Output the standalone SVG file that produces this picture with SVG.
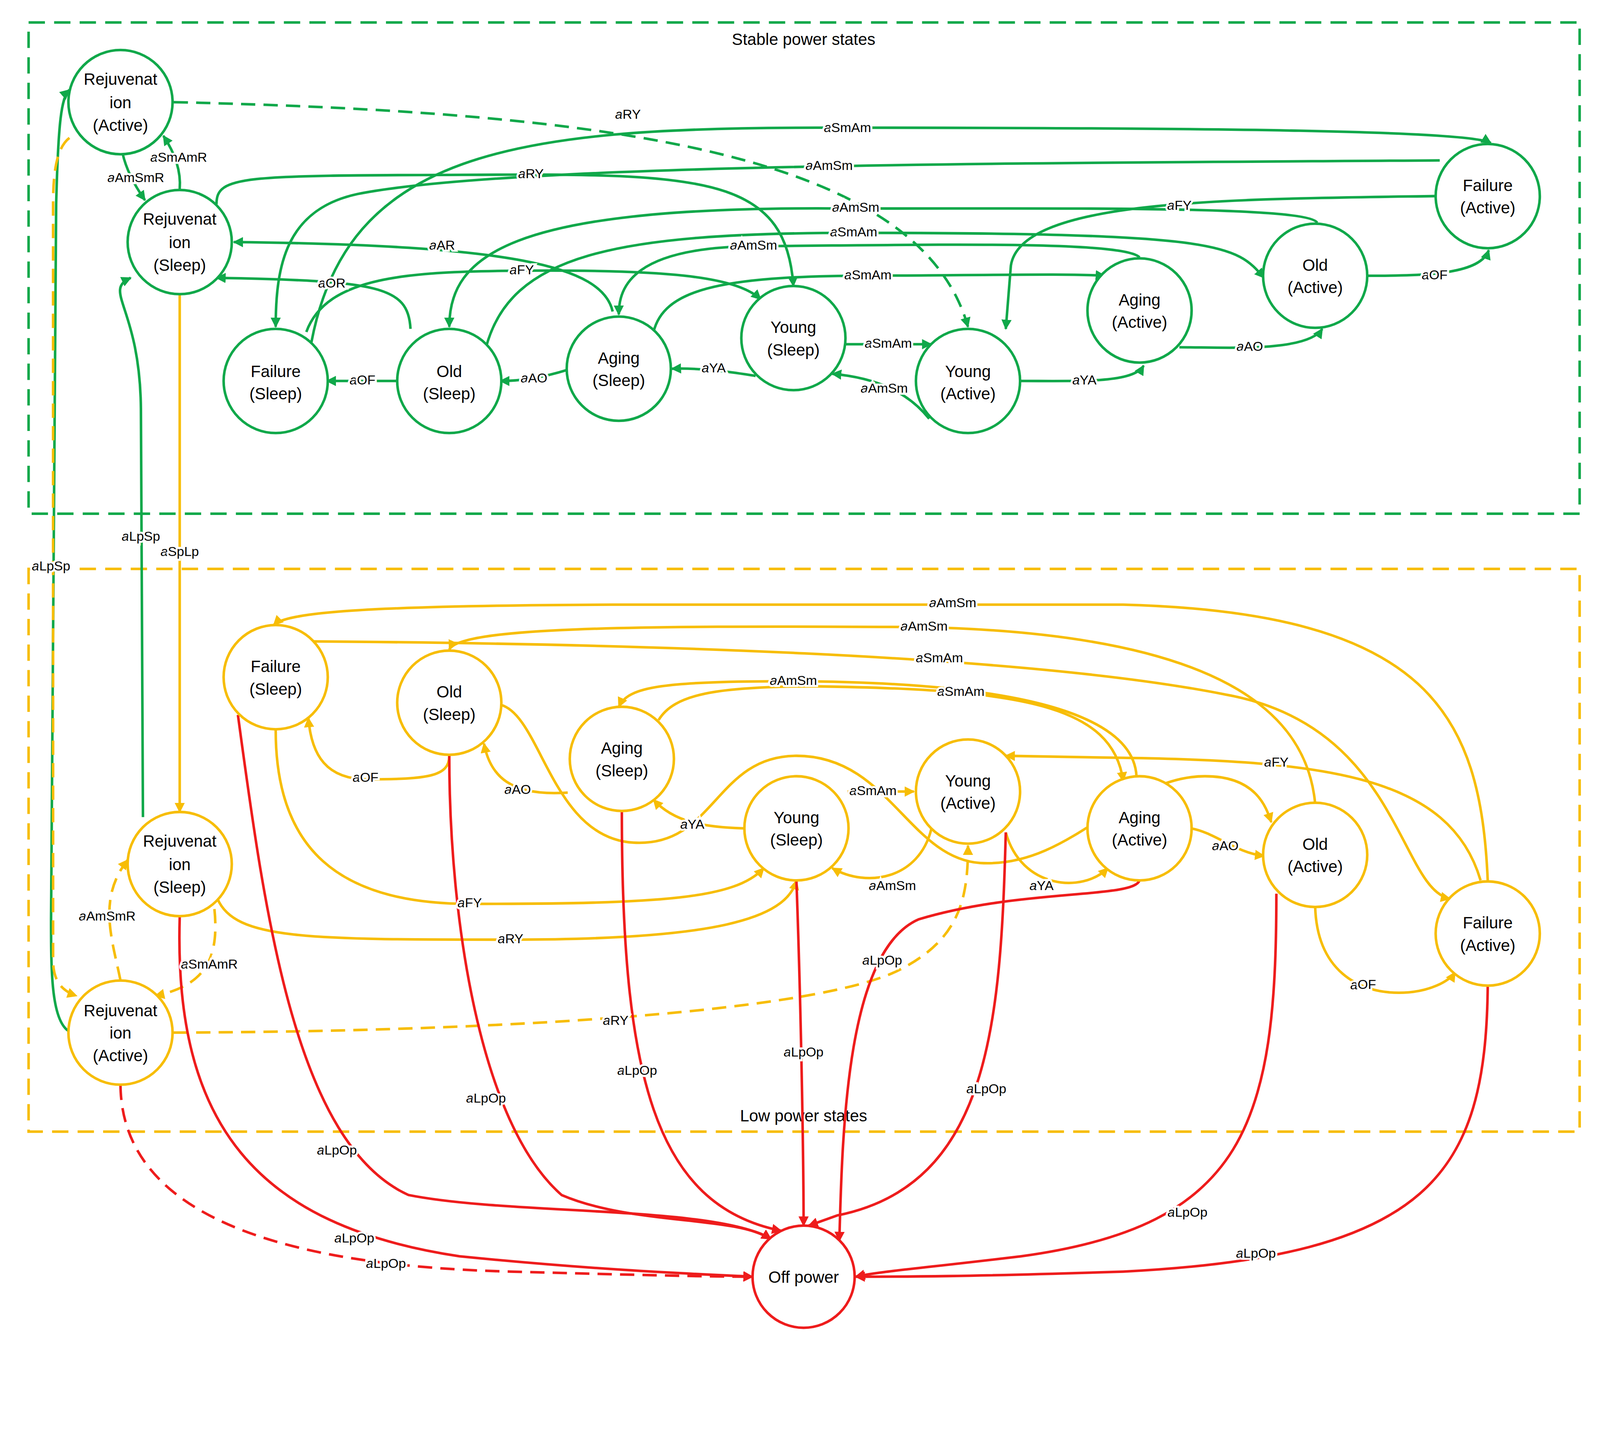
<svg xmlns="http://www.w3.org/2000/svg" width="4397" height="3688" viewBox="0 0 4397 3688">
<style>
.n{fill:#fff;stroke-width:2.5}
.g{stroke:#10a84a}.y{stroke:#f7bd05}.r{stroke:#ee1c1c}
.nt{font-family:"Liberation Sans",Arial,sans-serif;font-size:16px;text-anchor:middle;fill:#000}
.lb{font-family:"Liberation Sans",Arial,sans-serif;font-size:13px;text-anchor:middle;fill:#000;stroke:#fff;stroke-width:4px;paint-order:stroke;dominant-baseline:middle}
.e{fill:none;stroke-width:2.5}
.eg{stroke:#10a84a;marker-end:url(#ag)}.ey{stroke:#f7bd05;marker-end:url(#ay)}.er{stroke:#ee1c1c;marker-end:url(#ar)}
.d{stroke-dasharray:14 8}
.bx{fill:none;stroke-width:2.5;stroke-dasharray:16 9}
</style>
<defs>
<marker id="ag" viewBox="0 0 10 10" refX="9" refY="5" markerWidth="4" markerHeight="4" orient="auto"><path d="M0,0L10,5L0,10z" fill="#10a84a"/></marker>
<marker id="ay" viewBox="0 0 10 10" refX="9" refY="5" markerWidth="4" markerHeight="4" orient="auto"><path d="M0,0L10,5L0,10z" fill="#f7bd05"/></marker>
<marker id="ar" viewBox="0 0 10 10" refX="9" refY="5" markerWidth="4" markerHeight="4" orient="auto"><path d="M0,0L10,5L0,10z" fill="#ee1c1c"/></marker>
</defs>
<rect width="4397" height="3688" fill="#fff"/>
<g transform="scale(2.614)">
<g id="boxes">
<rect class="bx g" x="28" y="22" width="1519" height="481"/>
<rect class="bx y" x="28" y="557" width="1519" height="551"/>
<text class="nt" x="787" y="44">Stable power states</text>
<text class="nt" x="787" y="1098">Low power states</text>
</g>
<g id="connectors">
<path class="e eg d" d="M170,100 C600,110 900,150 948,320"/>
<path class="e eg" d="M120,150 Q125,172 142,196"/>
<path class="e eg" d="M176,185 Q178,160 160,133"/>
<path class="e eg" d="M305,335 C340,150 500,125 800,125 C1200,125 1440,128 1460,140"/>
<path class="e eg" d="M1410,157 C1000,160 500,160 350,190 C280,205 270,260 270,320"/>
<path class="e eg" d="M212,200 C212,170 240,172 500,171 C700,170 770,180 777,280"/>
<path class="e eg" d="M1290,218 C1280,200 1000,205 800,204 C500,204 440,250 440,320"/>
<path class="e eg" d="M476,340 C500,250 600,228 836,228 C1200,228 1210,240 1238,272"/>
<path class="e eg" d="M1116,252 C1100,235 900,240 740,241 C620,242 606,280 606,308"/>
<path class="e eg" d="M600,305 C590,260 500,240 229,237"/>
<path class="e eg" d="M1405,192 C1200,195 1000,195 990,260 L985,322"/>
<path class="e eg" d="M300,325 C320,270 400,266 511,265 C650,264 720,270 745,293"/>
<path class="e eg" d="M402,322 C400,280 370,275 212,272"/>
<path class="e eg" d="M640,325 C650,285 700,270 850,270 C1000,269 1050,268 1082,270"/>
<path class="e eg" d="M828,337 L912,337"/>
<path class="e eg" d="M910,410 C890,385 860,370 815,366"/>
<path class="e eg" d="M740,368 C720,365 690,360 658,361"/>
<path class="e eg" d="M556,362 C530,370 510,373 490,373"/>
<path class="e eg" d="M388,373 L320,373"/>
<path class="e eg" d="M1000,373 C1060,373 1110,375 1120,358"/>
<path class="e eg" d="M1155,340 C1200,340 1280,345 1295,322"/>
<path class="e eg" d="M1340,270 C1400,270 1450,268 1458,245"/>
<path class="e eg" d="M140,800 L138,400 C137,300 100,285 128,272"/>
<path class="e eg" d="M68,1010 C50,1000 50,950 50,900 L55,200 C57,120 60,95 68,88"/>
<path class="e ey" d="M176,289 L176,795"/>
<path class="e ey d" d="M68,135 C55,145 52,170 52,200 L52,940 C52,960 60,970 75,975"/>
<path class="e ey" d="M1457,862 C1450,700 1400,600 1100,592 L600,592 C350,593 280,600 268,612"/>
<path class="e ey" d="M1288,787 C1280,700 1200,620 900,614 C600,612 450,615 440,636"/>
<path class="e ey" d="M305,628 C600,630 1000,640 1200,680 C1370,710 1370,870 1420,880"/>
<path class="e ey" d="M490,690 C530,700 540,820 620,825 C700,830 700,740 780,740 C870,740 890,840 960,845 C1050,850 1100,760 1180,760 C1230,760 1240,790 1245,805"/>
<path class="e ey" d="M830,775 L895,775"/>
<path class="e ey" d="M1113,760 C1110,700 1000,668 777,667 C650,667 615,672 606,692"/>
<path class="e ey" d="M645,705 C660,680 700,672 800,672 C1000,675 1090,690 1100,765"/>
<path class="e ey" d="M1450,862 C1420,760 1300,745 1100,742 L985,740"/>
<path class="e ey" d="M728,811 C690,810 660,805 640,783"/>
<path class="e ey" d="M556,776 C500,780 480,760 474,728"/>
<path class="e ey" d="M440,740 C440,760 420,763 360,763 C320,763 305,740 302,703"/>
<path class="e ey" d="M270,715 C270,830 330,885 460,885 C650,885 720,880 748,850"/>
<path class="e ey" d="M213,880 C230,920 300,920 500,920 C700,920 770,900 780,862"/>
<path class="e ey" d="M912,812 C900,860 850,870 815,850"/>
<path class="e ey" d="M985,815 C1000,870 1060,875 1085,850"/>
<path class="e ey" d="M1166,811 C1190,815 1210,835 1238,838"/>
<path class="e ey" d="M1288,888 C1290,950 1330,972 1370,972 C1400,972 1420,960 1425,952"/>
<path class="e ey d" d="M170,1011 C500,1010 800,990 880,950 C940,920 948,880 948,828"/>
<path class="e ey d" d="M210,890 C215,940 200,965 152,975"/>
<path class="e ey d" d="M118,960 C110,920 95,880 125,842"/>
<path class="e er d" d="M118,1063 C120,1200 300,1240 500,1245 C650,1249 700,1250 737,1250"/>
<path class="e er" d="M176,898 C170,1100 250,1200 450,1230 C600,1245 700,1248 737,1250"/>
<path class="e er" d="M233,700 C260,900 290,1120 400,1170 C500,1190 700,1180 755,1213"/>
<path class="e er" d="M440,740 C440,900 470,1100 550,1170 C620,1200 720,1190 755,1213"/>
<path class="e er" d="M609,795 C609,1050 640,1180 765,1205"/>
<path class="e er" d="M780,863 C785,1000 787,1150 787,1200"/>
<path class="e er" d="M985,815 C980,1000 970,1160 820,1190 L792,1200"/>
<path class="e er" d="M1116,862 C1110,880 1000,870 900,900 C830,930 825,1100 822,1215"/>
<path class="e er" d="M1250,875 C1250,1100 1220,1200 1000,1230 C900,1242 860,1245 838,1250"/>
<path class="e er" d="M1457,966 C1455,1150 1400,1230 1100,1245 C950,1250 880,1250 838,1250"/>
</g>
<g id="labels">
<text class="lb" x="615" y="113"><tspan font-style="italic">a</tspan>RY</text>
<text class="lb" x="133" y="175"><tspan font-style="italic">a</tspan>AmSmR</text>
<text class="lb" x="175" y="155"><tspan font-style="italic">a</tspan>SmAmR</text>
<text class="lb" x="830" y="126"><tspan font-style="italic">a</tspan>SmAm</text>
<text class="lb" x="812" y="163"><tspan font-style="italic">a</tspan>AmSm</text>
<text class="lb" x="520" y="171"><tspan font-style="italic">a</tspan>RY</text>
<text class="lb" x="838" y="204"><tspan font-style="italic">a</tspan>AmSm</text>
<text class="lb" x="836" y="228"><tspan font-style="italic">a</tspan>SmAm</text>
<text class="lb" x="738" y="241"><tspan font-style="italic">a</tspan>AmSm</text>
<text class="lb" x="433" y="241"><tspan font-style="italic">a</tspan>AR</text>
<text class="lb" x="1155" y="202"><tspan font-style="italic">a</tspan>FY</text>
<text class="lb" x="511" y="265"><tspan font-style="italic">a</tspan>FY</text>
<text class="lb" x="325" y="278"><tspan font-style="italic">a</tspan>OR</text>
<text class="lb" x="850" y="270"><tspan font-style="italic">a</tspan>SmAm</text>
<text class="lb" x="870" y="337"><tspan font-style="italic">a</tspan>SmAm</text>
<text class="lb" x="866" y="381"><tspan font-style="italic">a</tspan>AmSm</text>
<text class="lb" x="699" y="361"><tspan font-style="italic">a</tspan>YA</text>
<text class="lb" x="523" y="371"><tspan font-style="italic">a</tspan>AO</text>
<text class="lb" x="355" y="373"><tspan font-style="italic">a</tspan>OF</text>
<text class="lb" x="1062" y="373"><tspan font-style="italic">a</tspan>YA</text>
<text class="lb" x="1224" y="340"><tspan font-style="italic">a</tspan>AO</text>
<text class="lb" x="1405" y="270"><tspan font-style="italic">a</tspan>OF</text>
<text class="lb" x="138" y="526"><tspan font-style="italic">a</tspan>LpSp</text>
<text class="lb" x="50" y="555"><tspan font-style="italic">a</tspan>LpSp</text>
<text class="lb" x="176" y="541"><tspan font-style="italic">a</tspan>SpLp</text>
<text class="lb" x="933" y="591"><tspan font-style="italic">a</tspan>AmSm</text>
<text class="lb" x="905" y="614"><tspan font-style="italic">a</tspan>AmSm</text>
<text class="lb" x="920" y="645"><tspan font-style="italic">a</tspan>SmAm</text>
<text class="lb" x="777" y="667"><tspan font-style="italic">a</tspan>AmSm</text>
<text class="lb" x="941" y="678"><tspan font-style="italic">a</tspan>SmAm</text>
<text class="lb" x="855" y="775"><tspan font-style="italic">a</tspan>SmAm</text>
<text class="lb" x="1250" y="747"><tspan font-style="italic">a</tspan>FY</text>
<text class="lb" x="678" y="808"><tspan font-style="italic">a</tspan>YA</text>
<text class="lb" x="507" y="774"><tspan font-style="italic">a</tspan>AO</text>
<text class="lb" x="358" y="762"><tspan font-style="italic">a</tspan>OF</text>
<text class="lb" x="460" y="885"><tspan font-style="italic">a</tspan>FY</text>
<text class="lb" x="500" y="920"><tspan font-style="italic">a</tspan>RY</text>
<text class="lb" x="874" y="868"><tspan font-style="italic">a</tspan>AmSm</text>
<text class="lb" x="1020" y="868"><tspan font-style="italic">a</tspan>YA</text>
<text class="lb" x="1200" y="829"><tspan font-style="italic">a</tspan>AO</text>
<text class="lb" x="1335" y="965"><tspan font-style="italic">a</tspan>OF</text>
<text class="lb" x="603" y="1000"><tspan font-style="italic">a</tspan>RY</text>
<text class="lb" x="205" y="945"><tspan font-style="italic">a</tspan>SmAmR</text>
<text class="lb" x="105" y="898"><tspan font-style="italic">a</tspan>AmSmR</text>
<text class="lb" x="378" y="1238"><tspan font-style="italic">a</tspan>LpOp</text>
<text class="lb" x="347" y="1213"><tspan font-style="italic">a</tspan>LpOp</text>
<text class="lb" x="330" y="1127"><tspan font-style="italic">a</tspan>LpOp</text>
<text class="lb" x="476" y="1076"><tspan font-style="italic">a</tspan>LpOp</text>
<text class="lb" x="624" y="1049"><tspan font-style="italic">a</tspan>LpOp</text>
<text class="lb" x="787" y="1031"><tspan font-style="italic">a</tspan>LpOp</text>
<text class="lb" x="966" y="1067"><tspan font-style="italic">a</tspan>LpOp</text>
<text class="lb" x="864" y="941"><tspan font-style="italic">a</tspan>LpOp</text>
<text class="lb" x="1163" y="1188"><tspan font-style="italic">a</tspan>LpOp</text>
<text class="lb" x="1230" y="1228"><tspan font-style="italic">a</tspan>LpOp</text>
</g>
<g id="s-rej-a"><circle class="n g" cx="118" cy="100" r="51"/><text class="nt" x="118" y="83">Rejuvenat</text><text class="nt" x="118" y="106">ion</text><text class="nt" x="118" y="128">(Active)</text></g>
<g id="s-rej-s"><circle class="n g" cx="176" cy="237" r="51"/><text class="nt" x="176" y="220">Rejuvenat</text><text class="nt" x="176" y="243">ion</text><text class="nt" x="176" y="265">(Sleep)</text></g>
<g id="s-fail-s"><circle class="n g" cx="270" cy="373" r="51"/><text class="nt" x="270" y="369">Failure</text><text class="nt" x="270" y="391">(Sleep)</text></g>
<g id="s-old-s"><circle class="n g" cx="440" cy="373" r="51"/><text class="nt" x="440" y="369">Old</text><text class="nt" x="440" y="391">(Sleep)</text></g>
<g id="s-aging-s"><circle class="n g" cx="606" cy="361" r="51"/><text class="nt" x="606" y="356">Aging</text><text class="nt" x="606" y="378">(Sleep)</text></g>
<g id="s-young-s"><circle class="n g" cx="777" cy="331" r="51"/><text class="nt" x="777" y="326">Young</text><text class="nt" x="777" y="348">(Sleep)</text></g>
<g id="s-young-a"><circle class="n g" cx="948" cy="373" r="51"/><text class="nt" x="948" y="369">Young</text><text class="nt" x="948" y="391">(Active)</text></g>
<g id="s-aging-a"><circle class="n g" cx="1116" cy="304" r="51"/><text class="nt" x="1116" y="299">Aging</text><text class="nt" x="1116" y="321">(Active)</text></g>
<g id="s-old-a"><circle class="n g" cx="1288" cy="270" r="51"/><text class="nt" x="1288" y="265">Old</text><text class="nt" x="1288" y="287">(Active)</text></g>
<g id="s-fail-a"><circle class="n g" cx="1457" cy="192" r="51"/><text class="nt" x="1457" y="187">Failure</text><text class="nt" x="1457" y="209">(Active)</text></g>
<g id="l-fail-s"><circle class="n y" cx="270" cy="663" r="51"/><text class="nt" x="270" y="658">Failure</text><text class="nt" x="270" y="680">(Sleep)</text></g>
<g id="l-old-s"><circle class="n y" cx="440" cy="688" r="51"/><text class="nt" x="440" y="683">Old</text><text class="nt" x="440" y="705">(Sleep)</text></g>
<g id="l-aging-s"><circle class="n y" cx="609" cy="743" r="51"/><text class="nt" x="609" y="738">Aging</text><text class="nt" x="609" y="760">(Sleep)</text></g>
<g id="l-young-s"><circle class="n y" cx="780" cy="811" r="51"/><text class="nt" x="780" y="806">Young</text><text class="nt" x="780" y="828">(Sleep)</text></g>
<g id="l-young-a"><circle class="n y" cx="948" cy="775" r="51"/><text class="nt" x="948" y="770">Young</text><text class="nt" x="948" y="792">(Active)</text></g>
<g id="l-aging-a"><circle class="n y" cx="1116" cy="811" r="51"/><text class="nt" x="1116" y="806">Aging</text><text class="nt" x="1116" y="828">(Active)</text></g>
<g id="l-old-a"><circle class="n y" cx="1288" cy="837" r="51"/><text class="nt" x="1288" y="832">Old</text><text class="nt" x="1288" y="854">(Active)</text></g>
<g id="l-fail-a"><circle class="n y" cx="1457" cy="914" r="51"/><text class="nt" x="1457" y="909">Failure</text><text class="nt" x="1457" y="931">(Active)</text></g>
<g id="l-rej-s"><circle class="n y" cx="176" cy="846" r="51"/><text class="nt" x="176" y="829">Rejuvenat</text><text class="nt" x="176" y="852">ion</text><text class="nt" x="176" y="874">(Sleep)</text></g>
<g id="l-rej-a"><circle class="n y" cx="118" cy="1011" r="51"/><text class="nt" x="118" y="995">Rejuvenat</text><text class="nt" x="118" y="1017">ion</text><text class="nt" x="118" y="1039">(Active)</text></g>
<g id="off"><circle class="n r" cx="787" cy="1250" r="50"/><text class="nt" x="787" y="1256">Off power</text></g>
</g>
</svg>
